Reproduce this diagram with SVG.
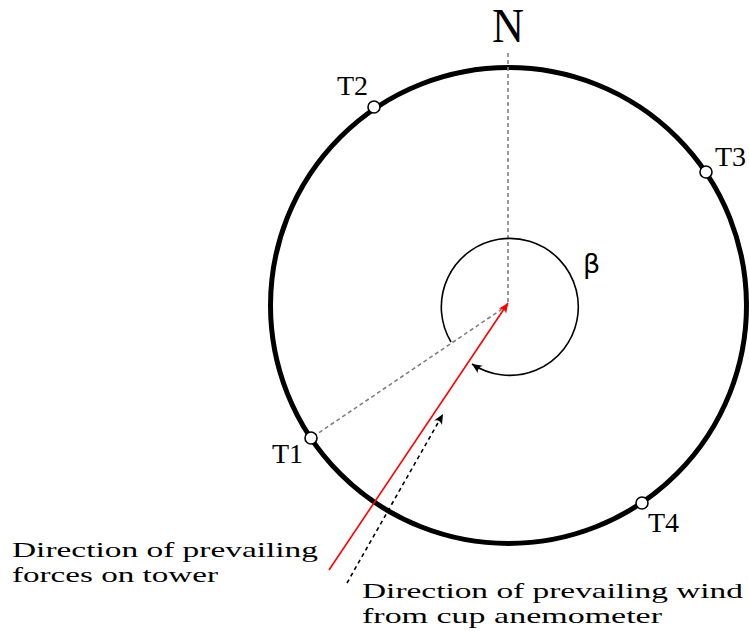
<svg xmlns="http://www.w3.org/2000/svg" width="749" height="631" viewBox="0 0 749 631">
<style>
.serif{font-family:"Liberation Serif","Times New Roman",serif;fill:#000}
.lbl{font-size:28px}
.cap{font-size:22px}
.tower{fill:#fff;stroke:#000;stroke-width:1.6}
.gdash{fill:none;stroke:#808080;stroke-width:1.6;stroke-dasharray:4 3}
</style>
<defs>
<marker id="ahBlack" markerUnits="userSpaceOnUse" markerWidth="14" markerHeight="14" viewBox="-12 -7 14 14" refX="0" refY="0" orient="auto">
<path d="M0,0 L-10,-4.5 Q-6,0 -10,4.5 Z" fill="#000"/>
</marker>
<marker id="ahRed" markerUnits="userSpaceOnUse" markerWidth="14" markerHeight="14" viewBox="-12 -7 14 14" refX="0" refY="0" orient="auto">
<path d="M0,0 L-10,-4.5 Q-6,0 -10,4.5 Z" fill="#ff0000"/>
</marker>
</defs>
<rect width="749" height="631" fill="#fff"/>
<g id="ring">
<circle cx="508.5" cy="305.5" r="238" fill="none" stroke="#000" stroke-width="5"/>
</g>
<g id="connectors">
<line class="gdash" x1="508" y1="53" x2="508" y2="305"/>
<line class="gdash" x1="508" y1="305" x2="311" y2="438"/>
<path d="M451,342 A68.5,68.5 0 1 1 472,364" fill="none" stroke="#000" stroke-width="1.6" marker-end="url(#ahBlack)"/>
<line x1="329" y1="570" x2="508" y2="303" stroke="#ff0000" stroke-width="1.6" marker-end="url(#ahRed)"/>
<line x1="347" y1="583" x2="443" y2="414" stroke="#000" stroke-width="1.6" stroke-dasharray="4 3.5" marker-end="url(#ahBlack)"/>
</g>
<g id="north">
<text class="serif" x="508" y="42" font-size="48" text-anchor="middle" textLength="32" lengthAdjust="spacingAndGlyphs">N</text>
</g>
<g id="beta">
<text x="583" y="273" font-family="DejaVu Sans,sans-serif" font-size="27">β</text>
</g>
<g id="T1">
<circle class="tower" cx="311" cy="438" r="6"/>
<text class="serif lbl" x="272" y="463">T1</text>
</g>
<g id="T2">
<circle class="tower" cx="374" cy="107" r="6"/>
<text class="serif lbl" x="337" y="95">T2</text>
</g>
<g id="T3">
<circle class="tower" cx="706" cy="172" r="6"/>
<text class="serif lbl" x="715" y="166">T3</text>
</g>
<g id="T4">
<circle class="tower" cx="642" cy="503" r="6"/>
<text class="serif lbl" x="648" y="532">T4</text>
</g>
<g id="label-forces">
<text class="serif cap" x="12" y="557" textLength="306" lengthAdjust="spacingAndGlyphs">Direction of prevailing</text>
<text class="serif cap" x="12" y="582" textLength="206" lengthAdjust="spacingAndGlyphs">forces on tower</text>
</g>
<g id="label-wind">
<text class="serif cap" x="362" y="598" textLength="381" lengthAdjust="spacingAndGlyphs">Direction of prevailing wind</text>
<text class="serif cap" x="362" y="623" textLength="300" lengthAdjust="spacingAndGlyphs">from cup anemometer</text>
</g>
</svg>
